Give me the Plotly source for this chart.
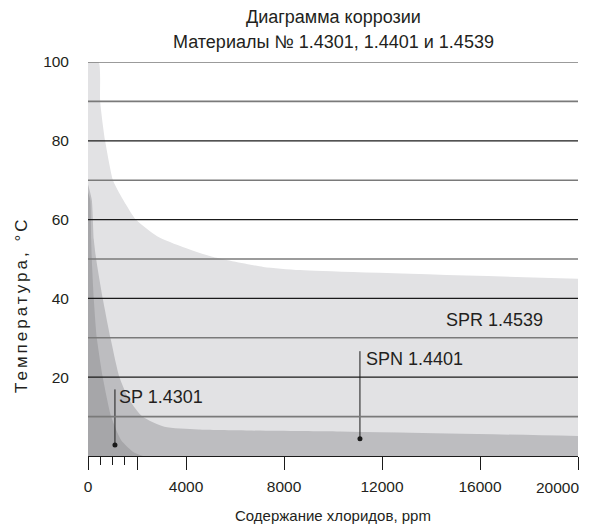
import plotly.graph_objects as go

# ---- data ----
title_lines = ["Диаграмма коррозии", "Материалы № 1.4301, 1.4401 и 1.4539"]
x_title = "Содержание хлоридов, ppm"
y_title = "Температура, °C"

# SPR 1.4539 (light) upper boundary
spr_x = [0, 428, 497, 700, 1020, 1300, 1957, 2822, 3894, 5117, 7156, 8665, 20000]
spr_y = [100, 100, 90, 80, 70, 66.5, 60, 55.8, 53.0, 50.5, 48.0, 47.2, 45]

# SPN 1.4401 (medium) upper boundary
spn_x = [0, 155, 236, 334, 603, 917, 1284, 1692, 2222, 3119, 4500, 10300, 20000]
spn_y = [69, 65, 55, 50, 40, 30, 20, 14.2, 10, 7.4, 6.7, 6.2, 5.1]

# SP 1.4301 (dark) upper boundary
sp_x = [0, 90, 130, 155, 236, 360, 603, 946, 1354, 1896, 2250]
sp_y = [67, 65, 55, 50, 40, 30, 20, 10, 4, 0.8, 0]

# labels, leader dots and leader tops
label_text = ["SP 1.4301", "SPN 1.4401", "SPR 1.4539"]
label_x = [1200, 11250, 16600]
label_y = [15.1, 24.5, 34.6]
dot_x = [1100, 11100]
dot_y = [2.8, 4.4]
leader_top = [16.9, 26.6]

x_tickvals = [0, 2000, 4000, 8000, 12000, 16000, 20000]
x_ticktext = ["0", "", "4000", "8000", "12000", "16000", ""]
x_last_label = "20000"
x_minor = [500, 1000, 1500]
y_ticks = [20, 40, 60, 80, 100]
grid_dark = [20, 40, 60, 80]
grid_gray = [10, 30, 50, 70, 90, 100]

FONT = "Liberation Sans, Arial, sans-serif"
TXT = "#231f20"

# page body has an 8px margin: size the figure so the plot area lands on the reference pixels
W, H = 588, 516
ML, MR, MT, MB = 80, 18, 54, 68
PH = H - MT - MB  # plot height in px
PT = 62           # plot top in window pixels

fig = go.Figure()
for xs, ys, col in [(spr_x, spr_y, "#e2e2e4"), (spn_x, spn_y, "#bdbdc0"), (sp_x, sp_y, "#a6a6a9")]:
    fig.add_trace(go.Scatter(x=xs, y=ys, mode="lines", fill="tozeroy",
                             fillcolor=col, line=dict(width=0, shape="spline", smoothing=0.6),
                             hoverinfo="skip", showlegend=False))

# gridlines above fills
shapes = []
for g in grid_gray:
    shapes.append(dict(type="line", xref="paper", x0=0, x1=1, yref="y", y0=g, y1=g,
                       line=dict(color="#7a7a7a", width=1.6), layer="above"))
for g in grid_dark:
    shapes.append(dict(type="line", xref="paper", x0=0, x1=1, yref="y", y0=g, y1=g,
                       line=dict(color="#1a1a1a", width=1.2), layer="above"))

# leader lines
for xd, yd, yt in zip(dot_x, dot_y, leader_top):
    fig.add_trace(go.Scatter(x=[xd, xd], y=[yd, yt], mode="lines",
                             line=dict(color="#1a1a1a", width=1), hoverinfo="skip", showlegend=False))
fig.add_trace(go.Scatter(x=dot_x, y=dot_y, mode="markers",
                         marker=dict(color="#1a1a1a", size=5), hoverinfo="skip", showlegend=False))

annotations = []
for t, xl, yl in zip(label_text, label_x, label_y):
    annotations.append(dict(text=t, x=xl, y=yl, xref="x", yref="y",
                            xanchor="left" if t != "SPR 1.4539" else "center",
                            yanchor="middle", showarrow=False, font=dict(family=FONT, size=18, color=TXT)))


def py(win_y):
    """window pixel y -> paper y"""
    return 1 - (win_y - PT) / PH


annotations.append(dict(text=title_lines[0], x=0.5, y=py(17), xref="paper", yref="paper",
                        xanchor="center", yanchor="middle", showarrow=False,
                        font=dict(family=FONT, size=18, color=TXT)))
annotations.append(dict(text=title_lines[1], x=0.5, y=py(42), xref="paper", yref="paper",
                        xanchor="center", yanchor="middle", showarrow=False,
                        font=dict(family=FONT, size=18, color=TXT)))
annotations.append(dict(text=x_title, x=0.5, y=py(515), xref="paper", yref="paper",
                        xanchor="center", yanchor="middle", showarrow=False,
                        font=dict(family=FONT, size=15, color=TXT)))
annotations.append(dict(text='<span style="letter-spacing:3px">' + y_title + '</span>',
                        x=(21 - 88) / 490, y=py(305), xref="paper", yref="paper",
                        xanchor="center", yanchor="middle", showarrow=False, textangle=-90,
                        font=dict(family=FONT, size=17, color=TXT)))
annotations.append(dict(text=x_last_label, x=x_tickvals[-1], y=py(487), xref="x", yref="paper",
                        xanchor="right", yanchor="middle", xshift=3, showarrow=False,
                        font=dict(family=FONT, size=15.5, color=TXT)))

fig.update_layout(
    width=W, height=H,
    margin=dict(l=ML, r=MR, t=MT, b=MB),
    paper_bgcolor="white", plot_bgcolor="white",
    shapes=shapes, annotations=annotations,
    font=dict(family=FONT, size=15, color=TXT),
    xaxis=dict(range=[0, 20000], tickvals=x_tickvals, ticktext=x_ticktext,
               ticks="outside", ticklen=13, tickwidth=1, tickcolor="#1a1a1a",
               minor=dict(tickvals=x_minor, ticks="outside", ticklen=8, tickwidth=1, tickcolor="#1a1a1a", showgrid=False),
               showline=True, linecolor="#1a1a1a", linewidth=1.2, ticklabelstandoff=3,
               showgrid=False, zeroline=False, fixedrange=True,
               tickfont=dict(family=FONT, size=15.5, color=TXT)),
    yaxis=dict(range=[0, 100], tickvals=y_ticks, showgrid=False, zeroline=False,
               showline=False, ticks="", ticklabelstandoff=18, fixedrange=True,
               tickfont=dict(family=FONT, size=15.5, color=TXT)),
)

fig.write_html("out.html")
